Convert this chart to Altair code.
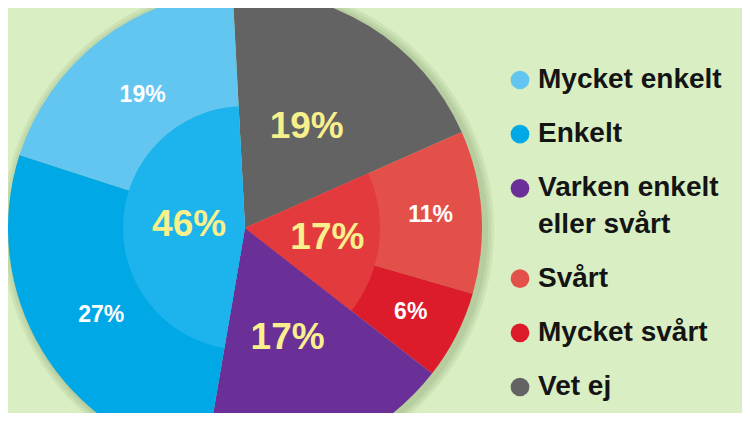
import math
import altair as alt
import pandas as pd

# Slices, clockwise from the top of the pie
categories = ["Vet ej", "Svårt", "Mycket svårt", "Varken enkelt eller svårt", "Enkelt", "Mycket enkelt"]
values = [19, 11, 6, 17, 27, 19]
groups = ["Vet ej", "Svårt totalt", "Svårt totalt", "Varken", "Enkelt totalt", "Enkelt totalt"]
slice_colors = ["#636363", "#e3504a", "#dc1b2b", "#6b2f98", "#00a8e6", "#62c6f0"]

# Legend rows, top to bottom
legend_categories = ["Mycket enkelt", "Enkelt", "Varken enkelt eller svårt", "Svårt", "Mycket svårt", "Vet ej"]
legend_line1 = ["Mycket enkelt", "Enkelt", "Varken enkelt", "Svårt", "Mycket svårt", "Vet ej"]
legend_line2 = ["", "", "eller svårt", "", "", ""]

slices = pd.DataFrame({
    "category": categories,
    "value": values,
    "group": groups,
    "order": list(range(len(categories))),
})
legend = pd.DataFrame({
    "category": legend_categories,
    "line1": legend_line1,
    "line2": legend_line2,
    "idx": list(range(len(legend_categories))),
})

CX, CY, R = 237, 220, 237
FONT = "Liberation Sans"
start = 2 * math.pi - math.radians(3)
total = sum(values)
theta_scale = alt.Scale(domain=[0, total], range=[start, start + 2 * math.pi])
color_scale = alt.Scale(domain=categories, range=slice_colors)
center = dict(x=alt.value(CX), y=alt.value(CY))

base = (
    alt.Chart(slices)
    .transform_stack(stack="value", groupby=[], as_=["start", "end"],
                     sort=[alt.SortField("order", order="ascending")])
    .transform_calculate(mid="(datum.start + datum.end) / 2", label="datum.value + '%'")
    .transform_joinaggregate(gstart="min(start)", gend="max(end)", gsum="sum(value)", groupby=["group"])
    .transform_calculate(gmid="(datum.gstart + datum.gend) / 2", glabel="datum.gsum + '%'")
    .transform_joinaggregate(tot="sum(value)")
    .transform_calculate(zero="0")
)

# soft drop shadow: full-circle discs (0 .. total) behind the pie
shadows = [
    base.transform_filter("datum.order == 0")
    .mark_arc(radius=R + k, color="#3b5b2b", opacity=0.08, clip=True)
    .encode(theta=alt.Theta("zero:Q", scale=theta_scale), theta2="tot:Q",
            x=alt.value(CX + 3), y=alt.value(CY + 2))
    for k in (3, 6, 9)
]

pie = base.mark_arc(radius=R, clip=True).encode(
    theta=alt.Theta("start:Q", scale=theta_scale),
    theta2="end:Q",
    color=alt.Color("category:N", scale=color_scale, legend=None),
    **center,
)

def inner(group, radius, color):
    return (
        base.transform_filter(f"datum.group == '{group}' && datum.start == datum.gstart")
        .mark_arc(radius=radius, color=color, clip=True)
        .encode(theta=alt.Theta("gstart:Q", scale=theta_scale), theta2="gend:Q", **center)
    )

inner_blue = inner("Enkelt totalt", 122, "#1db3ec")
inner_red = inner("Svårt totalt", 135, "#e33b3d")

def label(filter_expr, theta_field, text_field, radius, size, color):
    return (
        base.transform_filter(filter_expr)
        .mark_text(radius=radius, fontSize=size, fontWeight="bold", font=FONT, color=color,
                   align="center", baseline="middle")
        .encode(theta=alt.Theta(f"{theta_field}:Q", scale=theta_scale),
                text=f"{text_field}:N", **center)
    )

labels = [
    label("datum.category == 'Enkelt' || datum.category == 'Mycket enkelt'", "mid", "label", 168, 23, "white"),
    label("datum.category == 'Svårt' || datum.category == 'Mycket svårt'", "mid", "label", 186, 23, "white"),
    label("datum.category == 'Vet ej' || datum.category == 'Varken enkelt eller svårt'", "gmid", "glabel", 118, 37, "#f7f08c"),
    label("datum.group == 'Svårt totalt' && datum.start == datum.gstart", "gmid", "glabel", 83, 37, "#f7f08c"),
    label("datum.group == 'Enkelt totalt' && datum.start == datum.gstart", "gmid", "glabel", 56, 37, "#f7f08c"),
]

LINE_GAP = 0.67
y_scale = alt.Scale(domain=[0, len(legend_categories) - 1 + LINE_GAP], range=[72, 379], zero=False, nice=False)

leg = (
    alt.Chart(legend)
    .transform_calculate(extra="datum.line2 != '' ? 1 : 0")
    .transform_window(cum="sum(extra)", sort=[alt.SortField("idx", order="ascending")])
    .transform_calculate(slot=f"datum.idx + {LINE_GAP} * (datum.cum - datum.extra)")
    .transform_calculate(slot2=f"datum.slot + {LINE_GAP}")
)

leg_dots = leg.mark_circle(size=350, opacity=1).encode(
    x=alt.value(512),
    y=alt.Y("slot:Q", scale=y_scale, axis=None),
    color=alt.Color("category:N", scale=color_scale, legend=None),
)
text_style = dict(align="left", baseline="middle", fontSize=28, font=FONT, fontWeight="bold", color="#141414")
leg_text1 = leg.mark_text(**text_style).encode(
    x=alt.value(530), y=alt.Y("slot:Q", scale=y_scale, axis=None), text="line1:N"
)
leg_text2 = leg.transform_filter("datum.line2 != ''").mark_text(**text_style).encode(
    x=alt.value(530), y=alt.Y("slot2:Q", scale=y_scale, axis=None), text="line2:N"
)

chart = (
    alt.layer(*shadows, pie, inner_blue, inner_red, *labels, leg_dots, leg_text1, leg_text2)
    .properties(width=734, height=405, background="#d9efc3", padding=0,
                autosize=alt.AutoSizeParams(type="none"))
    .configure_view(strokeWidth=0)
)

chart.save("out.html", embed_options={"renderer": "svg", "actions": False})
